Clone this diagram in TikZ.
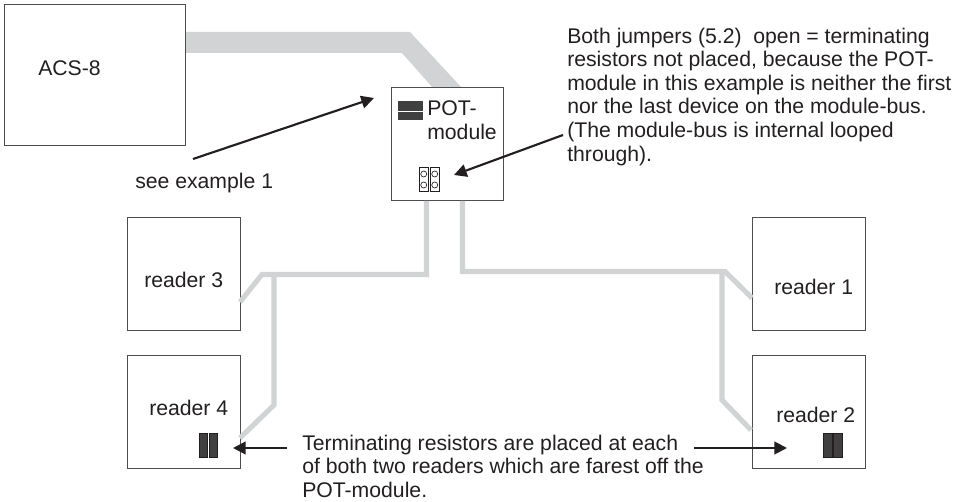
\documentclass[tikz,border=0pt]{standalone}
\usepackage{fontspec}
\setmainfont{Liberation Sans}
\usetikzlibrary{arrows.meta}
\definecolor{ink}{HTML}{231F20}
\definecolor{wire}{HTML}{D1D3D4}
\definecolor{res}{HTML}{404040}
\tikzset{
  x=0.75pt,y=-0.75pt,
  boxn/.style={draw=ink!80,line width=0.75pt},
  bus/.style={draw=wire,line width=3.8pt,line join=miter},
  lbl/.style={font=\fontsize{15.9}{17.7}\selectfont,text=ink,inner sep=0pt},
  note/.style={lbl,align=left,anchor=base west},
  arr/.style={draw=ink,line width=1.6pt,-{Triangle[length=9.5pt,width=9.5pt]}},
  rblock/.style={draw=ink,line width=0.3pt,fill=res},
  jump/.style={draw=ink,line width=0.5pt,fill=white}
}
\begin{document}
\begin{tikzpicture}
\useasboundingbox (0,0) rectangle (965,502);
% trunk
\fill[wire] (185,32) -- (410,32) -- (462,88) -- (433,88) -- (402,53) -- (185,53) -- cycle;
% boxes
\node[boxn,inner sep=0pt,minimum width=135.75pt,minimum height=105.75pt] (acsbox) at (94.5,75.5) {};
\node[boxn,fill=white,inner sep=0pt,minimum width=84pt,minimum height=84.75pt] (pot) at (447,144.5) {};
\node[boxn,inner sep=0pt,minimum width=84.75pt,minimum height=84.75pt] (b3) at (183.5,274.5) {};
\node[boxn,inner sep=0pt,minimum width=84.75pt,minimum height=84.75pt] (b4) at (183.5,412.5) {};
\node[boxn,inner sep=0pt,minimum width=84.75pt,minimum height=84.75pt] (b1) at (808.5,274.5) {};
\node[boxn,inner sep=0pt,minimum width=84.75pt,minimum height=84.75pt] (b2) at (808.5,412.5) {};
% thin buses
\coordinate (pa) at (426.5,201);
\coordinate (pb) at (462.5,201);
\coordinate (c3) at (262,274.5);
\coordinate (t3) at (274,274.5);
\coordinate (j4) at (274,405);
\coordinate (c1) at (725,271.5);
\coordinate (t1) at (722,271.5);
\coordinate (j2) at (722,400);
\coordinate (r3c) at (240,302);
\coordinate (r4c) at (240,438);
\coordinate (r1c) at (752,298);
\coordinate (r2c) at (751,430);
\draw[bus] (pa) |- (c3) -- (r3c);
\draw[bus] (t3) -- (j4) -- (r4c);
\draw[bus] (pb) |- (c1) -- (r1c);
\draw[bus] (t1) -- (j2) -- (r2c);
% labels
\node[lbl,anchor=west] (acs) at (38,68) {ACS-8};
\node[lbl,anchor=west] (potl) at (427,108) {POT-};
\node[lbl,anchor=west] (potm) at (427,132) {module};
\node[lbl,anchor=west] (r3) at (144,280) {reader 3};
\node[lbl,anchor=west] (r4) at (149,408) {reader 4};
\node[lbl,anchor=west] (r1) at (774,287) {reader 1};
\node[lbl,anchor=west] (r2) at (776,415) {reader 2};
\node[lbl,anchor=west] (see) at (135,183) {see example 1};
\node[lbl,align=left,anchor=north west] (both) at (567,27.5) {Both jumpers (5.2)\ \ open = terminating\\resistors not placed, because the POT-\\module in this example is neither the first\\nor the last device on the module-bus.\\(The module-bus is internal looped\\through).};
\node[lbl,align=left,anchor=north west] (term) at (302,434.5) {Terminating resistors are placed at each\\of both two readers which are farest off the\\POT-module.};
% POT bars
\fill[res] (398,101) rectangle (423,111);
\fill[res] (398,112) rectangle (423,120);
% jumpers
\foreach \xx in {419.5,430.5}{
  \draw[jump] (\xx,167) rectangle ++(8.5,24);
  \draw[jump] (\xx+4.25,174) circle (3);
  \draw[jump] (\xx+4.25,185) circle (3);
}
% resistors
\draw[rblock] (199,433) rectangle (207.5,457);
\draw[rblock] (209,433) rectangle (217.5,457);
\draw[rblock] (823.5,433) rectangle (832,457);
\draw[rblock] (833.5,433) rectangle (842,457);
% arrows
\coordinate (a1s) at (193,159);
\coordinate (a1e) at (374,98);
\coordinate (a2s) at (563,135);
\coordinate (a2e) at (454,175);
\coordinate (a3s) at (287,448);
\coordinate (a3e) at (233,448);
\coordinate (a4s) at (694,448);
\coordinate (a4e) at (787,448);
\draw[arr] (a1s) -- (a1e);
\draw[arr] (a2s) -- (a2e);
\draw[arr] (a3s) -- (a3e);
\draw[arr] (a4s) -- (a4e);
\end{tikzpicture}
\end{document}
